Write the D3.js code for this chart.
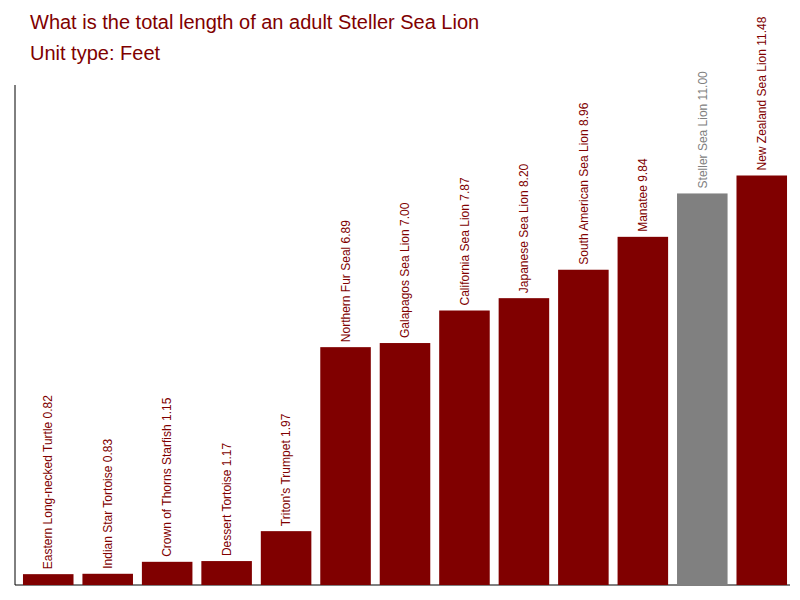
<!DOCTYPE html>
<html><head><meta charset="utf-8">
<script src="https://cdn.jsdelivr.net/npm/d3@7"></script>
<style>body{margin:0;background:#fff}</style>
</head><body>
<svg id="chart" width="800" height="600"></svg>
<script>
var names = ["Eastern Long-necked Turtle", "Indian Star Tortoise", "Crown of Thorns Starfish", "Dessert Tortoise", "Triton's Trumpet", "Northern Fur Seal", "Galapagos Sea Lion", "California Sea Lion", "Japanese Sea Lion", "South American Sea Lion", "Manatee", "Steller Sea Lion", "New Zealand Sea Lion"];
var lengths = [0.82, 0.83, 1.15, 1.17, 1.97, 6.89, 7.00, 7.87, 8.20, 8.96, 9.84, 11.00, 11.48];
var highlight = "Steller Sea Lion";

var svg = d3.select("#chart");
var x = d3.scaleBand().domain(names).range([20, 790]).paddingInner(0.15).paddingOuter(0.05);
var y = d3.scaleLinear().domain([0.53, 13.9]).range([585, 85]);

svg.append("line").attr("x1", 15).attr("x2", 15).attr("y1", 85).attr("y2", 585).attr("stroke", "#000");
svg.append("line").attr("x1", 15).attr("x2", 790).attr("y1", 585).attr("y2", 585).attr("stroke", "#000");

svg.selectAll("rect.bar").data(names).enter().append("rect")
  .attr("x", function(d) { return x(d); })
  .attr("y", function(d, i) { return y(lengths[i]); })
  .attr("width", x.bandwidth())
  .attr("height", function(d, i) { return 585 - y(lengths[i]); })
  .attr("fill", function(d) { return d === highlight ? "#808080" : "#800000"; });

svg.selectAll("text.lbl").data(names).enter().append("text")
  .attr("transform", function(d, i) {
    return "translate(" + (x(d) + x.bandwidth() / 2) + "," + (y(lengths[i]) - 5) + ") rotate(-90)";
  })
  .attr("dy", "0.35em")
  .attr("font-family", "Liberation Sans, Arial, sans-serif")
  .attr("font-size", 12)
  .attr("fill", function(d) { return d === highlight ? "#808080" : "#800000"; })
  .text(function(d, i) { return d + " " + lengths[i].toFixed(2); });

svg.append("text").attr("x", 30).attr("y", 29).attr("font-family", "Liberation Sans, Arial, sans-serif")
  .attr("font-size", 20).attr("fill", "#800000").text("What is the total length of an adult Steller Sea Lion");
svg.append("text").attr("x", 30).attr("y", 60).attr("font-family", "Liberation Sans, Arial, sans-serif")
  .attr("font-size", 20).attr("fill", "#800000").text("Unit type: Feet");
</script>
</body></html>
